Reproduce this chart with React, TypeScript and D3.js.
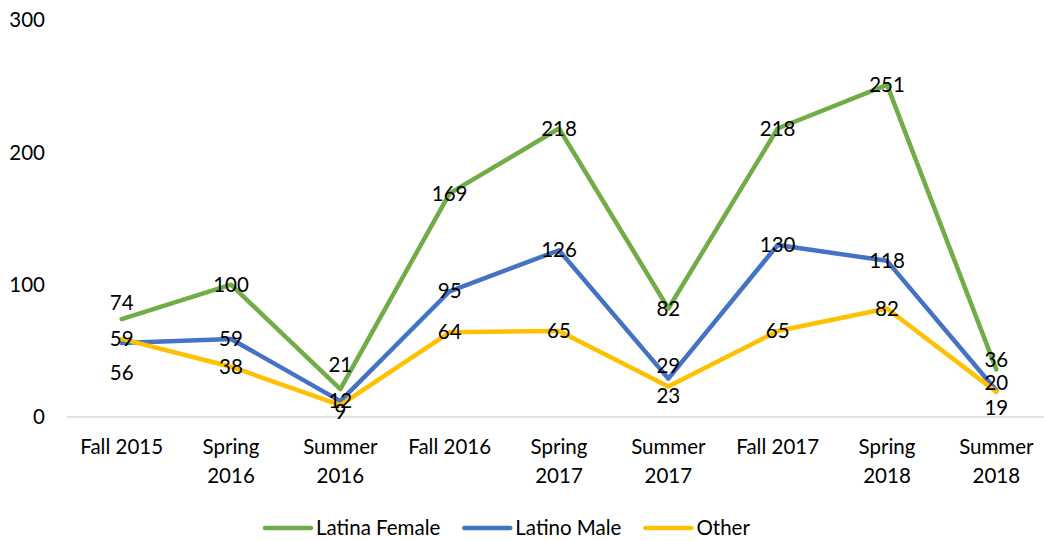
import React, { useRef, useEffect } from 'react';
import * as d3 from 'd3';

const terms = ['Fall 2015', 'Spring 2016', 'Summer 2016', 'Fall 2016', 'Spring 2017', 'Summer 2017', 'Fall 2017', 'Spring 2018', 'Summer 2018'];
const latinaFemale = [74, 100, 21, 169, 218, 82, 218, 251, 36];
const latinoMale = [56, 59, 12, 95, 126, 29, 130, 118, 20];
const other = [59, 38, 9, 64, 65, 23, 65, 82, 19];
const yTicks = [0, 100, 200, 300];

// label nudges (px) where the labels were moved off the point in the original
const femaleNudge = [-16, 0, -24, 0, 0, 0, 0, 0, -10];
const maleNudge = [30, 0, 0, 0, 0, -13, 0, 0, -8];
const otherNudge = [0, 0, 7, 0, 0, 9, 0, 0, 16];

const FONT = 'Lato, "Open Sans", sans-serif';

const App = () => {
    const ref = useRef<SVGSVGElement>(null);

    useEffect(() => {
        const svg = d3.select(ref.current);
        svg.selectAll('*').remove();

        const left = 67, right = 1051, top = 20, bottom = 417;

        const x = d3.scaleBand().domain(terms).range([left, right]);
        const cx = (t: string) => (x(t) as number) + x.bandwidth() / 2;
        const y = d3.scaleLinear().domain([0, 300]).range([bottom, top]);

        // y tick labels (no gridlines)
        svg.append('g')
            .selectAll('text')
            .data(yTicks)
            .join('text')
            .attr('x', 45)
            .attr('y', (d) => y(d))
            .attr('dy', '0.35em')
            .attr('text-anchor', 'end')
            .style('font-family', FONT)
            .style('font-size', '20.5px')
            .attr('fill', '#000')
            .text((d) => d);

        // x axis line
        svg.append('line')
            .attr('x1', left).attr('x2', right)
            .attr('y1', bottom).attr('y2', bottom)
            .attr('stroke', '#d9d9d9')
            .attr('stroke-width', 1.5);

        // x tick labels, split onto two lines except "Fall ..."
        const xl = svg.append('g');
        terms.forEach((t) => {
            const lines = t.startsWith('Fall') ? [t] : t.split(' ');
            const txt = xl.append('text')
                .attr('text-anchor', 'middle')
                .style('font-family', FONT)
                .style('font-size', '20.5px')
                .attr('fill', '#000');
            lines.forEach((l, i) => {
                txt.append('tspan')
                    .attr('x', cx(t))
                    .attr('y', 447 + i * 29)
                    .attr('dy', '0.35em')
                    .text(l);
            });
        });

        const series = [
            { name: 'Latina Female', values: latinaFemale, nudge: femaleNudge, color: '#70ad47' },
            { name: 'Latino Male', values: latinoMale, nudge: maleNudge, color: '#4472c4' },
            { name: 'Other', values: other, nudge: otherNudge, color: '#ffc000' },
        ];

        const line = d3.line<number>()
            .x((d, i) => cx(terms[i]))
            .y((d) => y(d));

        series.forEach((s) => {
            svg.append('path')
                .datum(s.values)
                .attr('fill', 'none')
                .attr('stroke', s.color)
                .attr('stroke-width', 4.5)
                .attr('stroke-linejoin', 'round')
                .attr('stroke-linecap', 'round')
                .attr('d', line);
        });

        series.forEach((s) => {
            svg.append('g')
                .selectAll('text')
                .data(s.values)
                .join('text')
                .attr('x', (d, i) => cx(terms[i]))
                .attr('y', (d, i) => y(d) + s.nudge[i])
                .attr('dy', '0.35em')
                .attr('text-anchor', 'middle')
                .style('font-family', FONT)
                .style('font-size', '20.5px')
                .attr('fill', '#000')
                .text((d) => d);
        });

        // legend
        const lg = svg.append('g');
        let lx = 263;
        const ly = 528;
        series.forEach((s) => {
            lg.append('line')
                .attr('x1', lx + 2).attr('x2', lx + 48)
                .attr('y1', ly).attr('y2', ly)
                .attr('stroke', s.color)
                .attr('stroke-width', 4.5)
                .attr('stroke-linecap', 'round');
            const t = lg.append('text')
                .attr('x', lx + 53)
                .attr('y', ly)
                .attr('dy', '0.35em')
                .style('font-family', FONT)
                .style('font-size', '20.5px')
                .attr('fill', '#000')
                .text(s.name);
            const w = (t.node() as SVGTextElement).getComputedTextLength();
            lx += 53 + w + 22;
        });
    }, []);

    return <svg ref={ref} width={1044} height={541} style={{ display: 'block', position: 'absolute', left: 0, top: 0 }}></svg>;
};

export default App;
